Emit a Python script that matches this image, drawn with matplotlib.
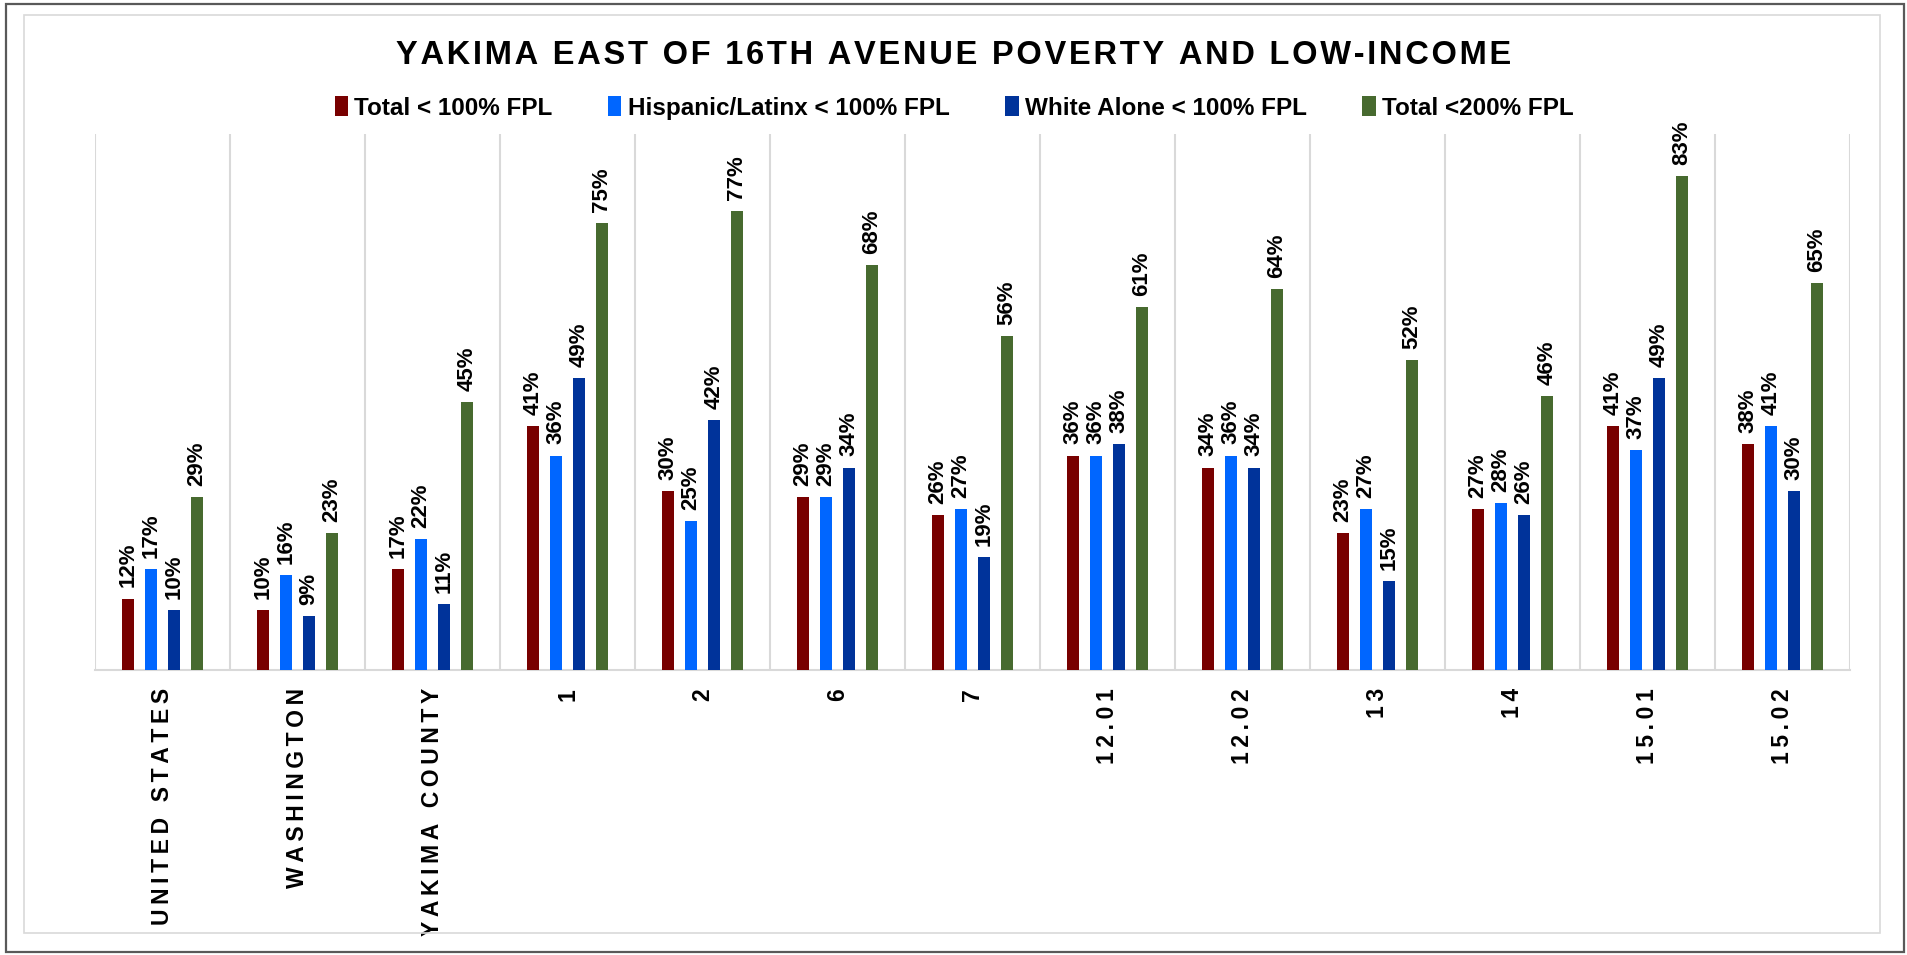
import numpy as np
import matplotlib
matplotlib.use('Agg')
import matplotlib.pyplot as plt
from matplotlib.patches import Rectangle

plt.rcParams['font.family'] = ['Liberation Sans', 'DejaVu Sans']
plt.rcParams['font.weight'] = 'bold'

# data
categories = ['UNITED STATES', 'WASHINGTON', 'YAKIMA COUNTY', '1', '2', '6', '7',
              '12.01', '12.02', '13', '14', '15.01', '15.02']
total_100 = [12, 10, 17, 41, 30, 29, 26, 36, 34, 23, 27, 41, 38]
hisp_100 = [17, 16, 22, 36, 25, 29, 27, 36, 36, 27, 28, 37, 41]
white_100 = [10, 9, 11, 49, 42, 34, 19, 38, 34, 15, 26, 49, 30]
total_200 = [29, 23, 45, 75, 77, 68, 56, 61, 64, 52, 46, 83, 65]

series_names = ['Total < 100% FPL', 'Hispanic/Latinx < 100% FPL',
                'White Alone < 100% FPL', 'Total <200% FPL']
colors = ['#780000', '#0066FF', '#00339A', '#476A2F']
title = 'YAKIMA EAST OF 16TH AVENUE POVERTY AND LOW-INCOME'


def spaced(s, sp='\u2009'):
    # fake letter spacing
    return sp.join(list(s))


fig = plt.figure(figsize=(19.08, 9.55), dpi=100)

# frames round the chart
fig.patches.append(Rectangle((6/1908, 3/955), 1898/1908, 948/955, transform=fig.transFigure,
                             fill=False, ec='#595959', lw=1.6))
fig.patches.append(Rectangle((24/1908, 22/955), 1856/1908, 918/955, transform=fig.transFigure,
                             fill=False, ec='#D9D9D9', lw=1.2))

ax = fig.add_axes([95/1908, 1 - 670/955, (1850-95)/1908, (670-134)/955])

data = [total_100, hisp_100, white_100, total_200]
x = np.arange(len(categories))
w = 0.089
step = 0.17
for j, vals in enumerate(data):
    xs = x + (j - 1.5) * step
    bars = ax.bar(xs, np.array(vals) / 100, width=w, color=colors[j], label=series_names[j], zorder=3)
    for b, v in zip(bars, vals):
        ax.annotate(f'{v}%', (b.get_x() + b.get_width()/2, b.get_height()),
                    xytext=(0, 8), textcoords='offset points', rotation=90,
                    ha='center', va='bottom', fontsize=16, fontweight='bold')

ax.set_xlim(-0.5, len(categories) - 0.5)
ax.set_ylim(0, 0.9)
ax.set_yticks([])
ax.set_xticks(x)
ax.set_xticklabels([spaced(c) for c in categories], rotation=90, fontsize=16.5,
                   fontweight='bold', va='top')
ax.tick_params(axis='x', length=0, pad=13)

# vertical lines between categories
for b in np.arange(-0.5, len(categories), 1):
    ax.axvline(b, color='#D9D9D9', lw=1.5, zorder=1)
for s in ['top', 'right', 'left']:
    ax.spines[s].set_visible(False)
ax.spines['bottom'].set_color('#D9D9D9')
ax.spines['bottom'].set_linewidth(1.5)

fig.text(0.5, 1 - 56/955, spaced(title, '\u200a'), ha='center', va='center',
         fontsize=23.5, fontweight='bold')

fig.legend(loc='center', bbox_to_anchor=(0.5, 1 - 108/955), ncol=4, frameon=False,
           handlelength=0.55, handleheight=0.9, handletextpad=0.25,
           columnspacing=2.3, prop={'weight': 'bold', 'size': 17.5})

fig.savefig('out.png', dpi=100)
